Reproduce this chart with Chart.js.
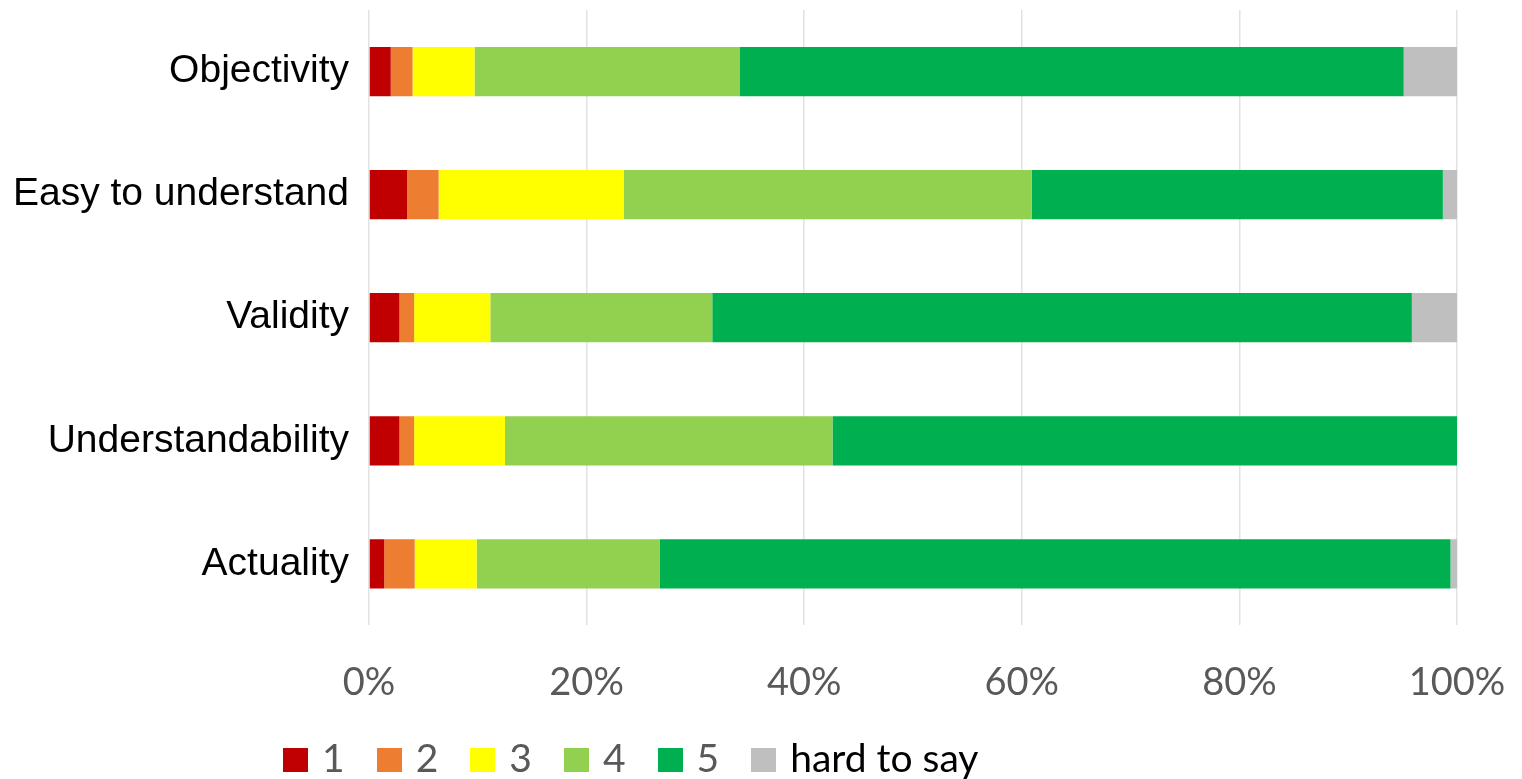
<!DOCTYPE html>
<html>
<head>
<meta charset="utf-8">
<script src="https://cdn.jsdelivr.net/npm/chart.js@4/dist/chart.umd.min.js"></script>
<style>
  body { margin: 0; background: #fff; }
  #wrap { position: relative; width: 1522px; height: 779px; }
  #legend { position: absolute; left: 283px; top: 738px; display: flex; align-items: flex-end; font-family: Lato, sans-serif; font-size: 39px; line-height: 39px; }
  #legend .item { display: flex; align-items: flex-end; margin-right: 32px; }
  #legend .box { width: 25px; height: 24px; margin-right: 14px; margin-bottom: 5px; }
</style>
</head>
<body>
<div id="wrap">
  <canvas id="myChart" width="1522" height="779"></canvas>
  <div id="legend"></div>
</div>
<script>
const categories = ['Objectivity', 'Easy to understand', 'Validity', 'Understandability', 'Actuality']
const s1 = [2.0, 3.5, 2.8, 2.8, 1.4]
const s2 = [2.0, 2.9, 1.35, 1.35, 2.8]
const s3 = [5.7, 17.0, 7.0, 8.35, 5.7]
const s4 = [24.4, 37.5, 20.4, 30.1, 16.8]
const s5 = [61.0, 37.8, 64.3, 57.4, 72.7]
const hard = [4.9, 1.3, 4.15, 0, 0.6]
const seriesNames = ['1', '2', '3', '4', '5', 'hard to say']
const xTicks = [0, 20, 40, 60, 80, 100]

const colors = ['#C00000', '#ED7D31', '#FFFF00', '#92D050', '#00B050', '#BFBFBF']
const textColors = ['#595959', '#595959', '#595959', '#595959', '#595959', '#000000']

const datachart = {
  labels: categories,
  datasets: [s1, s2, s3, s4, s5, hard].map(function (values, i) {
    return {
      label: seriesNames[i],
      data: values,
      backgroundColor: colors[i],
      borderWidth: 0,
      barPercentage: 0.4,
      categoryPercentage: 1
    }
  })
}

const config = {
  type: 'bar',
  data: datachart,
  options: {
    indexAxis: 'y',
    responsive: false,
    animation: false,
    layout: {
      padding: { top: 10, right: 65, bottom: 38, left: 10 }
    },
    plugins: {
      legend: { display: false },
      tooltip: { enabled: false }
    },
    scales: {
      x: {
        stacked: true,
        min: 0,
        max: 100,
        afterBuildTicks: function (axis) {
          axis.ticks = xTicks.map(v => ({ value: v }))
        },
        // keep the plot area where the original has it
        afterFit: function (axis) {
          axis.paddingLeft = 0
          axis.paddingRight = 0
        },
        grid: { color: '#e2e2e2', lineWidth: 1.5, drawTicks: false },
        border: { display: false },
        ticks: {
          padding: 35,
          color: '#595959',
          font: { family: 'Lato', size: 38 },
          callback: v => v + '%'
        }
      },
      y: {
        stacked: true,
        afterFit: function (axis) {
          axis.width = 359
          axis.paddingTop = 0
          axis.paddingBottom = 0
        },
        grid: { display: false, drawTicks: false },
        border: { display: false },
        ticks: {
          padding: 20,
          color: '#000000',
          font: { family: 'Liberation Sans', size: 39 }
        }
      }
    }
  }
}

const myChart = new Chart(document.getElementById('myChart'), config)

// legend sits off-centre in the original, so it's plain html
let legendHtml = ''
seriesNames.forEach(function (name, i) {
  legendHtml += '<div class="item"><div class="box" style="background:' + colors[i] + '"></div><span style="color:' + textColors[i] + '">' + name + '</span></div>'
})
document.getElementById('legend').innerHTML = legendHtml
</script>
</body>
</html>
